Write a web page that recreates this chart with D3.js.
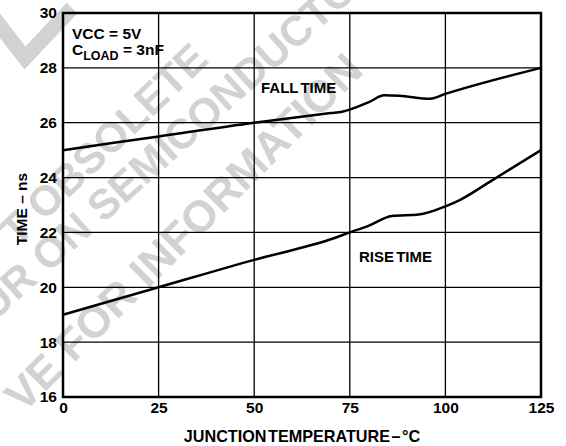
<!DOCTYPE html>
<html>
<head>
<meta charset="utf-8">
<script src="https://cdn.jsdelivr.net/npm/d3@7"></script>
<style>
  body { margin: 0; background: #fff; }
  text { font-family: "Liberation Sans", Arial, sans-serif; font-weight: bold; }
</style>
</head>
<body>
<script>
// curve data
const fallTemp = [0, 25, 50, 70, 73, 80, 84, 88, 96, 100, 125];
const fallTime = [25.0, 25.5, 26.0, 26.35, 26.4, 26.75, 27.0, 26.98, 26.87, 27.05, 28.0];
const riseTemp = [0, 25, 50, 70, 75, 80, 86, 93, 100, 104, 112, 125];
const riseTime = [19.0, 20.0, 21.0, 21.75, 22.0, 22.25, 22.6, 22.65, 22.95, 23.2, 23.88, 25.0];

const xTicks = [0, 25, 50, 75, 100, 125];
const yTicks = [16, 18, 20, 22, 24, 26, 28, 30];

const width = 566, height = 446;
const plotL = 63, plotR = 541, plotT = 13, plotB = 397;

function go() {
    const svg = d3.select("body").append("svg")
        .attr("width", width)
        .attr("height", height);

    const x = d3.scaleLinear().domain([0, 125]).range([plotL, plotR]);
    const y = d3.scaleLinear().domain([16, 30]).range([plotB, plotT]);

    // faint watermark behind everything
    const wm = svg.append("g").attr("fill", "#d2d2d2");
    wm.append("polyline")
        .attr("points", "-6,18 25,58 72,8")
        .attr("fill", "none")
        .attr("stroke", "#d2d2d2")
        .attr("stroke-width", 15);
    const wmLines = [
        {t: "T OBSOLETE", x: 17, y: 248, a: -44, s: 42, anchor: "start"},
        {t: "UR ON SEMICONDUCTOR", x: -6, y: 322, a: -42, s: 42, anchor: "start"},
        {t: "VE FOR INFORMATION", x: 365, y: 72, a: -45, s: 44, anchor: "end"}
    ];
    wm.selectAll("text.wm")
        .data(wmLines)
        .enter().append("text")
        .attr("class", "wm")
        .attr("transform", d => "translate(" + d.x + "," + d.y + ") rotate(" + d.a + ")")
        .attr("font-size", d => d.s)
        .attr("text-anchor", d => d.anchor)
        .text(d => d.t);

    // grid
    svg.append("g")
        .selectAll("line")
        .data(yTicks.slice(1, -1))
        .enter().append("line")
        .attr("x1", plotL).attr("x2", plotR)
        .attr("y1", d => y(d)).attr("y2", d => y(d))
        .attr("stroke", "#000").attr("stroke-width", 1.3);
    svg.append("g")
        .selectAll("line")
        .data(xTicks.slice(1, -1))
        .enter().append("line")
        .attr("y1", plotT).attr("y2", plotB)
        .attr("x1", d => x(d)).attr("x2", d => x(d))
        .attr("stroke", "#000").attr("stroke-width", 1.3);

    svg.append("rect")
        .attr("x", plotL).attr("y", plotT)
        .attr("width", plotR - plotL).attr("height", plotB - plotT)
        .attr("fill", "none")
        .attr("stroke", "#000").attr("stroke-width", 2.5);

    // axes (labels only)
    const yAxis = svg.append("g")
        .attr("transform", "translate(" + plotL + ",0)")
        .call(d3.axisLeft(y).tickValues(yTicks).tickSize(0).tickPadding(6));
    const xAxis = svg.append("g")
        .attr("transform", "translate(0," + plotB + ")")
        .call(d3.axisBottom(x).tickValues(xTicks).tickSize(0).tickPadding(5));
    [yAxis, xAxis].forEach(function(a) {
        a.select(".domain").remove();
        a.attr("font-family", null).attr("font-size", null);
        a.selectAll("text")
            .attr("font-size", 15.5)
            .attr("fill", "#000");
    });

    // curves
    const line = d3.line()
        .x(d => x(d[0]))
        .y(d => y(d[1]))
        .curve(d3.curveMonotoneX);
    const series = [d3.zip(fallTemp, fallTime), d3.zip(riseTemp, riseTime)];
    svg.append("g")
        .selectAll("path")
        .data(series)
        .enter().append("path")
        .attr("d", line)
        .attr("fill", "none")
        .attr("stroke", "#000")
        .attr("stroke-width", 2.5);

    // annotations
    svg.append("text")
        .attr("x", 72).attr("y", 38.5)
        .attr("font-size", 15.5)
        .text("VCC = 5V");
    const cl = svg.append("text")
        .attr("x", 72).attr("y", 55)
        .attr("font-size", 15.5);
    cl.append("tspan").text("C");
    cl.append("tspan").attr("font-size", 12.5).attr("dy", 5).text("LOAD");
    cl.append("tspan").attr("dy", -5).text(" = 3nF");

    svg.append("text")
        .attr("x", 261).attr("y", 92.5)
        .attr("font-size", 15)
        .attr("word-spacing", -2)
        .text("FALL TIME");
    svg.append("text")
        .attr("x", 359).attr("y", 262)
        .attr("font-size", 15)
        .attr("word-spacing", -2)
        .text("RISE TIME");

    // axis titles
    svg.append("text")
        .attr("x", 302).attr("y", 442)
        .attr("text-anchor", "middle")
        .attr("font-size", 16.2)
        .attr("word-spacing", -3)
        .text("JUNCTION TEMPERATURE \u2013 \u00B0C");
    svg.append("text")
        .attr("transform", "translate(27,209) rotate(-90)")
        .attr("text-anchor", "middle")
        .attr("font-size", 15.5)
        .text("TIME \u2013 ns");
}

window.onload = function() {
    go();
};
</script>
</body>
</html>
